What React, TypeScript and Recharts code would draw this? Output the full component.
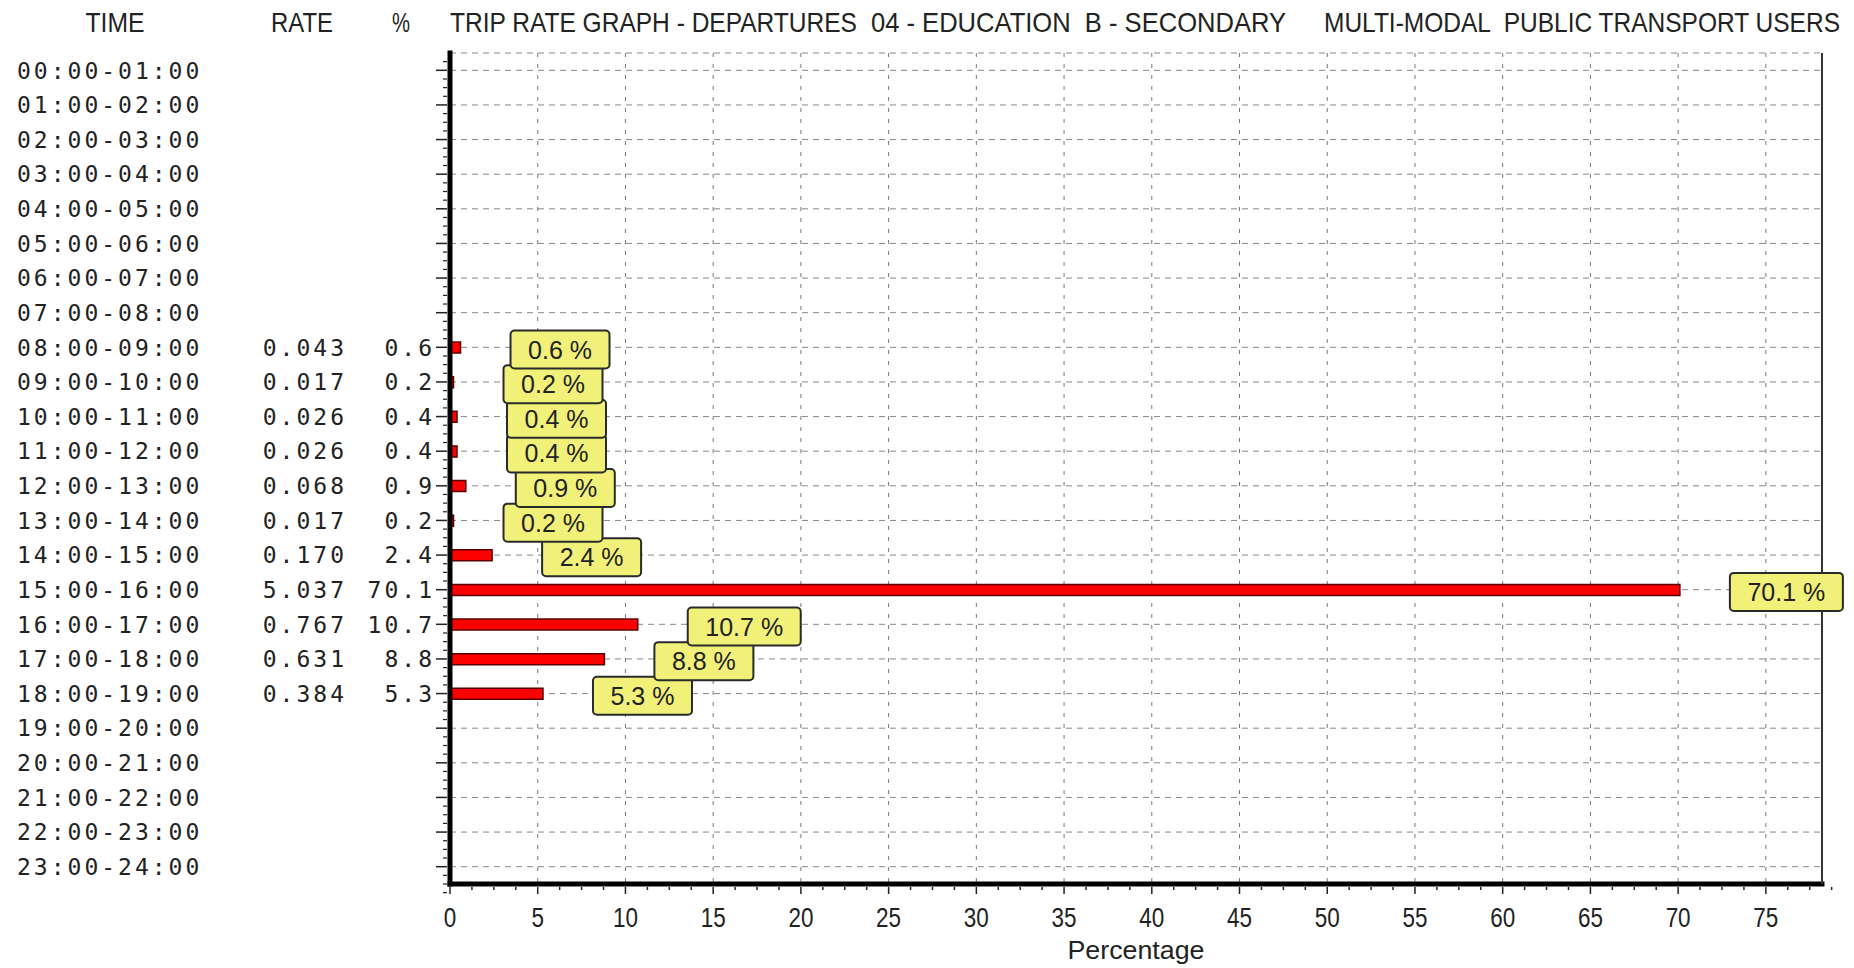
import React from "react"
import {
  BarChart, Bar, XAxis, YAxis, CartesianGrid, LabelList,
} from "recharts"

// hourly departures, multi-modal public transport users
const times = [
  "00:00-01:00", "01:00-02:00", "02:00-03:00", "03:00-04:00",
  "04:00-05:00", "05:00-06:00", "06:00-07:00", "07:00-08:00",
  "08:00-09:00", "09:00-10:00", "10:00-11:00", "11:00-12:00",
  "12:00-13:00", "13:00-14:00", "14:00-15:00", "15:00-16:00",
  "16:00-17:00", "17:00-18:00", "18:00-19:00", "19:00-20:00",
  "20:00-21:00", "21:00-22:00", "22:00-23:00", "23:00-24:00",
]
const rates: (number | null)[] = [
  null, null, null, null, null, null, null, null,
  0.043, 0.017, 0.026, 0.026, 0.068, 0.017, 0.170, 5.037,
  0.767, 0.631, 0.384, null, null, null, null, null,
]
const percents: (number | null)[] = [
  null, null, null, null, null, null, null, null,
  0.6, 0.2, 0.4, 0.4, 0.9, 0.2, 2.4, 70.1,
  10.7, 8.8, 5.3, null, null, null, null, null,
]
const majorTicks = [0, 5, 10, 15, 20, 25, 30, 35, 40, 45, 50, 55, 60, 65, 70, 75]
const gridTicks = majorTicks.slice(1)
const axisTicks = majorTicks.flatMap((t) => [t, t + 1.25, t + 2.5, t + 3.75])

// reversed so earlier rows' labels paint over later ones
const data = times
  .map((time, i) => ({ time, rate: rates[i], pct: percents[i] }))
  .reverse()

const W = 1854
const H = 968
const PLOT_TOP = 53
const PLOT_BOTTOM = 884
const BAND = (PLOT_BOTTOM - PLOT_TOP) / times.length

const SANS = "'Liberation Sans', Arial, sans-serif"
const MONO = "'DejaVu Sans Mono', monospace"
const INK = "#222"

function YTick(props: any) {
  const { x, y, payload } = props
  const i = times.indexOf(payload.value)
  const rate = rates[i]
  const pct = percents[i]
  const mono = { fontFamily: MONO, fontSize: 23, letterSpacing: 3, fill: INK }
  const minors = i === 0 ? [-1, 1, 2, 3] : [1, 2, 3]
  return (
    <g>
      <line x1={x - 14} x2={x - 3} y1={y} y2={y} stroke={INK} strokeWidth={1.5} />
      {minors.map((k) => (
        <line key={k} x1={x - 7} x2={x - 3} y1={y + (k * BAND) / 4} y2={y + (k * BAND) / 4}
          stroke={INK} strokeWidth={1.2} />
      ))}
      <text x={17} y={y} dy="0.36em" {...mono}>{payload.value}</text>
      {rate != null && (
        <text x={347} y={y} dy="0.36em" textAnchor="end" {...mono}>{rate.toFixed(3)}</text>
      )}
      {pct != null && (
        <text x={435} y={y} dy="0.36em" textAnchor="end" {...mono}>{pct.toFixed(1)}</text>
      )}
    </g>
  )
}

function XTick(props: any) {
  const { x, y, payload } = props
  const v = payload.value
  const major = v % 5 === 0
  return (
    <g>
      <line x1={x} x2={x} y1={y + 3} y2={y + (major ? 10 : 6)} stroke={INK} strokeWidth={1.5} />
      {major && (
        <text x={x} y={y + 43} textAnchor="middle" fontFamily={SANS} fontSize={27}
          fill={INK} textLength={String(v).length * 12.5} lengthAdjust="spacingAndGlyphs">
          {v}
        </text>
      )}
    </g>
  )
}

function PctLabel(props: any) {
  const { x, y, width, height, value } = props
  if (value == null) return null
  const s = Number(value).toFixed(1)
  const bw = 57 + 14 * s.length
  const bx = Number(x) + Number(width) + 50
  const cy = Number(y) + Number(height) / 2 + 2
  return (
    <g>
      <rect x={bx} y={cy - 19} width={bw} height={38} rx={4}
        fill="#f1f17a" stroke="#2a2a2a" strokeWidth={2} />
      <text x={bx + bw / 2} y={cy} dy="0.36em" textAnchor="middle"
        fontFamily={SANS} fontSize={25} fill={INK}>
        {`${s} %`}
      </text>
    </g>
  )
}

// header text, squeezed horizontally like the original's condensed face
function Head({ x, len, anchor = "start", children }: any) {
  return (
    <g transform="translate(0,32) scale(1,1.12)">
      <text x={x} y={0} textAnchor={anchor} textLength={len} lengthAdjust="spacingAndGlyphs"
        fontFamily={SANS} fontSize={24} fill={INK} style={{ whiteSpace: "pre" }}>
        {children}
      </text>
    </g>
  )
}

export default function App() {
  return (
    <div style={{ position: "absolute", left: 0, top: 0, width: W, height: H, background: "#fff" }}>
      <BarChart
        width={W}
        height={H}
        data={data}
        layout="vertical"
        margin={{ top: PLOT_TOP, right: 31, bottom: 0, left: 0 }}
        barCategoryGap={0}
      >
        <CartesianGrid horizontal vertical={false} stroke="#888" strokeDasharray="6 5" />
        <CartesianGrid horizontal={false} vertical verticalValues={gridTicks}
          stroke="#777" strokeDasharray="4 7" />
        <XAxis
          type="number"
          domain={[0, 78.2]}
          allowDataOverflow
          ticks={axisTicks}
          interval={0}
          tick={<XTick />}
          tickLine={false}
          tickSize={0}
          tickMargin={0}
          height={H - PLOT_BOTTOM}
          axisLine={{ stroke: "#000", strokeWidth: 5, strokeLinecap: "square" }}
          label={(p: any) => {
            const vb = p.viewBox
            return (
              <text x={vb.x + vb.width / 2} y={vb.y + 75} textAnchor="middle"
                fontFamily={SANS} fontSize={26} fill={INK}
                textLength={137} lengthAdjust="spacingAndGlyphs">
                Percentage
              </text>
            )
          }}
        />
        <XAxis xAxisId="frame" orientation="top" type="number" domain={[0, 1]}
          height={0} tick={false} tickLine={false} axisLine={{ stroke: "#333", strokeWidth: 2 }} />
        <YAxis
          type="category"
          dataKey="time"
          reversed
          width={450}
          interval={0}
          tick={<YTick />}
          tickLine={false}
          tickSize={0}
          tickMargin={0}
          axisLine={{ stroke: "#000", strokeWidth: 5, strokeLinecap: "square" }}
        />
        <YAxis yAxisId="frame" orientation="right" type="number" domain={[0, 1]}
          width={1} tick={false} tickLine={false} axisLine={{ stroke: "#333", strokeWidth: 2 }} />
        <Bar dataKey="pct" barSize={11} fill="#ff0000" stroke="#5a0000" strokeWidth={1.5}
          isAnimationActive={false}>
          <LabelList dataKey="pct" content={<PctLabel />} />
        </Bar>
      </BarChart>
      <svg width={W} height={60} style={{ position: "absolute", left: 0, top: 0, pointerEvents: "none" }}>
        <Head x={115} len={59} anchor="middle">TIME</Head>
        <Head x={302} len={62} anchor="middle">RATE</Head>
        <Head x={401} len={18} anchor="middle">%</Head>
        <Head x={450} len={407}>TRIP RATE GRAPH - DEPARTURES</Head>
        <Head x={871} len={415}>04 - EDUCATION  B - SECONDARY</Head>
        <Head x={1324} len={516}>MULTI-MODAL  PUBLIC TRANSPORT USERS</Head>
      </svg>
    </div>
  )
}
